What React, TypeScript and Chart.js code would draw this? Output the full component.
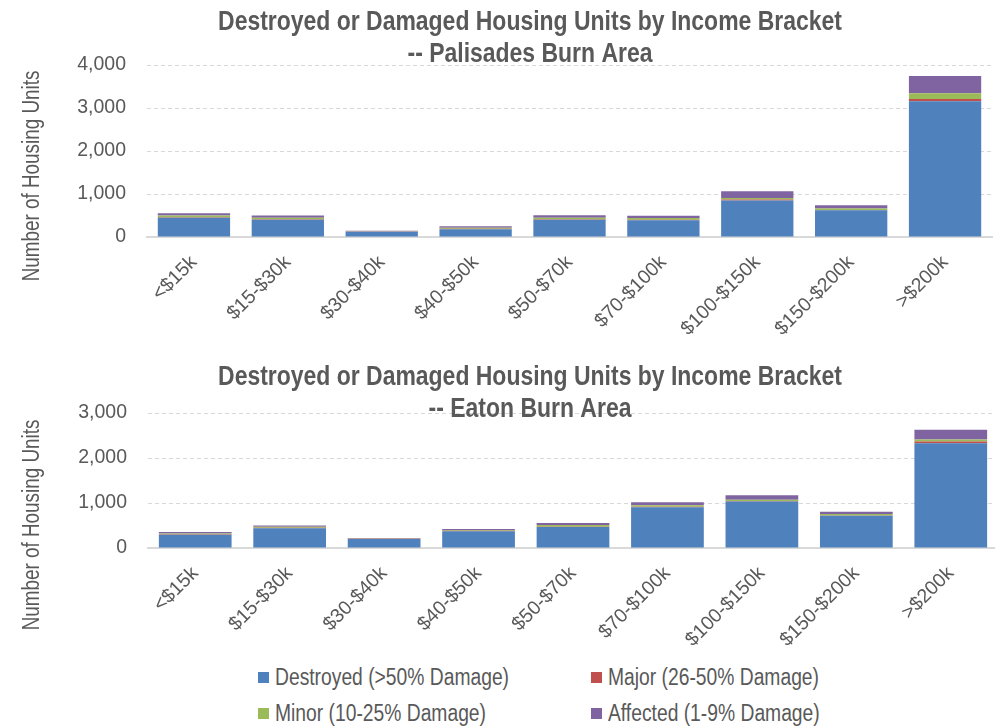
import React, { useEffect, useRef } from 'react';
import { Chart, registerables } from 'chart.js';

Chart.register(...registerables);

const categories = ['<$15k', '$15-$30k', '$30-$40k', '$40-$50k', '$50-$70k', '$70-$100k', '$100-$150k', '$150-$200k', '>$200k'];
const seriesNames = ['Destroyed (>50% Damage)', 'Major (26-50% Damage)', 'Minor (10-25% Damage)', 'Affected (1-9% Damage)'];
const seriesColors = ['#4F81BD', '#C0504D', '#9BBB59', '#8064A2'];

const palisadesDestroyed = [445, 400, 125, 180, 400, 390, 850, 620, 3155];
const palisadesMajor = [15, 10, 5, 10, 10, 10, 20, 10, 55];
const palisadesMinor = [40, 35, 5, 25, 40, 40, 35, 30, 135];
const palisadesAffected = [50, 55, 10, 35, 55, 55, 160, 80, 400];

const eatonDestroyed = [295, 440, 200, 375, 465, 905, 1035, 715, 2330];
const eatonMajor = [10, 10, 5, 10, 10, 10, 10, 10, 35];
const eatonMinor = [20, 20, 5, 15, 35, 35, 30, 30, 45];
const eatonAffected = [30, 30, 10, 20, 45, 65, 95, 50, 220];

const palisadesTicks = [0, 1000, 2000, 3000, 4000];
const eatonTicks = [0, 1000, 2000, 3000];

const palisadesTitle = ['Destroyed or Damaged Housing Units by Income Bracket', '-- Palisades Burn Area'];
const eatonTitle = ['Destroyed or Damaged Housing Units by Income Bracket', '-- Eaton Burn Area'];
const yAxisTitle = 'Number of Housing Units';

const FONT = "'Liberation Sans', Arial, sans-serif";
const TEXT = '#595959';
const GRID = '#d9d9d9';
const NARROW = 0.82;

type PanelProps = {
  title: string[];
  series: number[][];
  ticks: number[];
  top: number;
  width: number;
  height: number;
  padTop: number;
  padRight: number;
  yWidth: number;
  xHeight: number;
  titleX: number;
  titleY: number;
  axisTitleY: number;
};

function Panel(p: PanelProps) {
  const ref = useRef<HTMLCanvasElement | null>(null);
  useEffect(() => {
    if (!ref.current) return;
    const textPlugin = {
      id: 'panelText',
      afterDraw(chart: any) {
        const ctx = chart.ctx;
        ctx.save();
        ctx.fillStyle = TEXT;
        ctx.textAlign = 'center';
        ctx.textBaseline = 'middle';
        ctx.font = `bold 28px ${FONT}`;
        p.title.forEach((line, i) => {
          ctx.save();
          ctx.translate(p.titleX, p.titleY + i * 32);
          ctx.scale(NARROW, 1);
          ctx.fillText(line, 0, 0);
          ctx.restore();
        });
        ctx.translate(33, p.axisTitleY);
        ctx.rotate(-Math.PI / 2);
        ctx.scale(NARROW, 1);
        ctx.font = `23px ${FONT}`;
        ctx.fillText(yAxisTitle, 0, 0);
        ctx.restore();
      },
    };
    const chart = new Chart(ref.current, {
      type: 'bar',
      data: {
        labels: categories,
        datasets: p.series.map((d, i) => ({
          label: seriesNames[i],
          data: d,
          backgroundColor: seriesColors[i],
          borderWidth: 0,
          categoryPercentage: 1,
          barPercentage: 0.77,
        })),
      },
      options: {
        animation: false,
        responsive: false,
        devicePixelRatio: 1,
        layout: { padding: { top: p.padTop, right: p.padRight, left: 0, bottom: 0 } },
        plugins: { legend: { display: false }, title: { display: false }, tooltip: { enabled: false } },
        scales: {
          x: {
            stacked: true,
            grid: { display: false },
            border: { display: true, color: GRID, width: 2 },
            ticks: {
              color: TEXT,
              font: { family: FONT, size: 19.5 },
              minRotation: 45,
              maxRotation: 45,
              autoSkip: false,
              padding: 6,
            },
            afterFit: (s: any) => { s.height = p.xHeight; },
          },
          y: {
            stacked: true,
            min: 0,
            max: p.ticks[p.ticks.length - 1],
            afterBuildTicks: (s: any) => { s.ticks = p.ticks.map((v) => ({ value: v })); },
            grid: {
              color: (c: any) => (c.tick && c.tick.value === 0 ? 'rgba(0,0,0,0)' : GRID),
              lineWidth: 1,
              drawTicks: false,
            },
            border: { display: false, dash: [4, 3] },
            ticks: {
              color: TEXT,
              font: { family: FONT, size: 19.5 },
              padding: 21,
              callback: (v: any) => Number(v).toLocaleString('en-US'),
            },
            afterFit: (s: any) => { s.width = p.yWidth; },
          },
        },
      },
      plugins: [textPlugin],
    });
    return () => chart.destroy();
  }, []);
  return (
    <canvas
      ref={ref}
      width={p.width}
      height={p.height}
      style={{ position: 'absolute', left: 0, top: p.top, width: p.width, height: p.height }}
    />
  );
}

function LegendItem({ i, left, top }: { i: number; left: number; top: number }) {
  return (
    <div style={{ position: 'absolute', left, top, height: 30, display: 'flex', alignItems: 'center', whiteSpace: 'nowrap' }}>
      <span style={{ display: 'inline-block', width: 11, height: 11, background: seriesColors[i], marginRight: 6 }} />
      <span
        style={{
          display: 'inline-block',
          fontFamily: FONT,
          fontSize: 23.5,
          color: TEXT,
          transform: `scaleX(${NARROW})`,
          transformOrigin: 'left center',
        }}
      >
        {seriesNames[i]}
      </span>
    </div>
  );
}

export default function App() {
  return (
    <div style={{ position: 'fixed', left: 0, top: 0, width: 995, height: 726, overflow: 'hidden', background: '#fff' }}>
      <Panel
        title={palisadesTitle}
        series={[palisadesDestroyed, palisadesMajor, palisadesMinor, palisadesAffected]}
        ticks={palisadesTicks}
        top={0}
        width={995}
        height={345}
        padTop={65}
        padRight={3}
        yWidth={147}
        xHeight={108}
        titleX={530}
        titleY={22}
        axisTitleY={176}
      />
      <Panel
        title={eatonTitle}
        series={[eatonDestroyed, eatonMajor, eatonMinor, eatonAffected]}
        ticks={eatonTicks}
        top={345}
        width={1001}
        height={305}
        padTop={68}
        padRight={3}
        yWidth={148}
        xHeight={102}
        titleX={530}
        titleY={32}
        axisTitleY={180}
      />
      <LegendItem i={0} left={258} top={662} />
      <LegendItem i={1} left={591} top={662} />
      <LegendItem i={2} left={258} top={698} />
      <LegendItem i={3} left={591} top={698} />
    </div>
  );
}
